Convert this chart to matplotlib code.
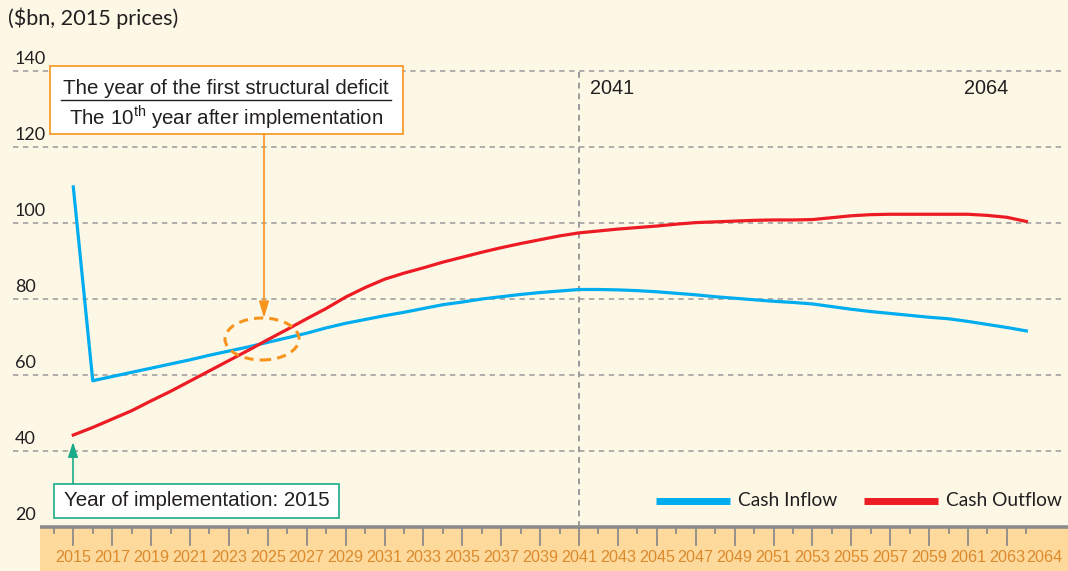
"""Cash inflow vs cash outflow projection, 2015-2064."""

import matplotlib

matplotlib.use("Agg")
import matplotlib.pyplot as plt
from matplotlib.patches import Ellipse, Rectangle

plt.rcParams["mathtext.fontset"] = "custom"
plt.rcParams["mathtext.rm"] = "Liberation Sans"

# Data ($bn, 2015 prices)
years = list(range(2015, 2065))
cash_inflow = [
    109.5, 58.5, 59.6, 60.7, 61.8, 62.9, 64.0, 65.2, 66.3, 67.4,
    68.6, 69.8, 71.0, 72.4, 73.6, 74.6, 75.6, 76.5, 77.5, 78.5,
    79.2, 80.0, 80.6, 81.2, 81.7, 82.1, 82.5, 82.5, 82.4, 82.2,
    81.9, 81.5, 81.1, 80.6, 80.2, 79.8, 79.4, 79.1, 78.7, 78.0,
    77.3, 76.7, 76.2, 75.7, 75.2, 74.8, 74.1, 73.3, 72.5, 71.6,
]
cash_outflow = [
    44.2, 46.2, 48.4, 50.6, 53.2, 55.7, 58.4, 61.1, 63.8, 66.5,
    69.3, 72.0, 74.8, 77.5, 80.5, 83.0, 85.2, 86.8, 88.2, 89.7,
    91.0, 92.3, 93.5, 94.6, 95.6, 96.6, 97.4, 97.9, 98.4, 98.8,
    99.2, 99.7, 100.1, 100.3, 100.5, 100.7, 100.8, 100.8, 100.9, 101.4,
    101.9, 102.2, 102.3, 102.3, 102.3, 102.3, 102.3, 102.0, 101.5, 100.4,
]
y_ticks = [20, 40, 60, 80, 100, 120, 140]
tick_label_years = list(range(2015, 2064, 2)) + [2064]
marker_years = [2041, 2064]

# Colours
BG = "#fdf7e6"
BAND = "#fdd99c"
BLUE = "#00aeef"
RED = "#ed1c24"
ORANGE = "#f7941d"
TEAL = "#1aab8a"
GRID = "#9a9a9a"
TXT = "#231f20"
TICK_TXT = "#dc8a2c"

W, H = 1068, 571


# pixel -> data helpers (axes spans the whole figure)
def px_x(p):
    return 2015 + (p - 73.3) / 19.45


def px_y(p):
    return 20 + (527 - p) / 3.8


fig = plt.figure(figsize=(W / 100, H / 100), dpi=100)
fig.patch.set_facecolor(BG)
ax = fig.add_axes([0, 0, 1, 1])
ax.set_xlim(px_x(0), px_x(W))
ax.set_ylim(px_y(H), px_y(0))
ax.axis("off")
ax.set_facecolor(BG)

# tan band under the x axis
ax.add_patch(
    Rectangle(
        (px_x(40), px_y(H)), px_x(W) - px_x(40), 20 - px_y(H),
        facecolor=BAND, edgecolor="none", zorder=1,
    )
)
ax.plot([px_x(40), px_x(W)], [20, 20], color="#8c8c8c", lw=2.6, zorder=3,
        solid_capstyle="butt")

# ticks: minor at even years, major at odd years
for yr in range(2014, 2065):
    length = 18 if yr % 2 == 1 else 6
    ax.plot([yr, yr], [20, 20 - length / 3.8], color="#8c8c8c", lw=1.3, zorder=3)

for yr in tick_label_years:
    xpos = yr + (0.9 if yr == 2064 else 0)
    ax.text(xpos, px_y(557), str(yr), ha="center", va="center", fontsize=11.6,
            color=TICK_TXT, family=["Liberation Sans Narrow", "Liberation Sans"])

# horizontal gridlines and y labels
for v in y_ticks:
    if v > 20:
        ax.plot([px_x(13), px_x(1062)], [v, v], color=GRID, lw=1.1,
                ls=(0, (3.5, 3)), zorder=2)
    ax.text(px_x(15), v + 1.0, str(v), ha="left", va="bottom", fontsize=13,
            color=TXT, family="Lato")

# vertical marker at 2041
ax.plot([marker_years[0], marker_years[0]], [20, 140], color=GRID, lw=1.4,
        ls=(0, (3, 2.5)), zorder=2)
ax.text(marker_years[0] + 0.55, px_y(88), str(marker_years[0]), ha="left",
        va="center", fontsize=14.3, color=TXT, family="Liberation Sans")
ax.text(px_x(1008), px_y(88), str(marker_years[1]), ha="right", va="center",
        fontsize=14.3, color=TXT, family="Liberation Sans")

# series
ax.plot(years, cash_inflow, color=BLUE, lw=2.3, zorder=5)
ax.plot(years, cash_outflow, color=RED, lw=2.3, zorder=5)

# unit label
fig.text(8 / W, 1 - 18 / H, "($bn, 2015 prices)", ha="left", va="center",
         fontsize=15.6, color=TXT, family="Lato")

# legend
for x0, color, label in [(656, BLUE, "Cash Inflow"), (864, RED, "Cash Outflow")]:
    ax.plot([px_x(x0), px_x(x0 + 74)], [px_y(501), px_y(501)], color=color,
            lw=5, solid_capstyle="butt", zorder=5)
    ax.text(px_x(x0 + 82), px_y(501), label, ha="left", va="center",
            fontsize=13.8, color=TXT, family="Lato")

# first structural deficit box
box_l, box_r, box_t, box_b = px_x(50), px_x(403), px_y(66), px_y(134)
ax.add_patch(
    Rectangle((box_l, box_b), box_r - box_l, box_t - box_b, facecolor="white",
              edgecolor=ORANGE, lw=1.2, zorder=6)
)
ax.text(px_x(226), px_y(88), "The year of the first structural deficit",
        ha="center", va="center", fontsize=14.8, color=TXT,
        family="Liberation Sans", zorder=7)
ax.plot([px_x(61), px_x(391)], [px_y(100), px_y(100)], color=TXT, lw=1.0, zorder=7)
ax.text(px_x(226), px_y(117), r"The 10$^{\mathrm{th}}$ year after implementation",
        ha="center", va="center", fontsize=14.8, color=TXT,
        family="Liberation Sans", zorder=7)

ax.annotate(
    "", xy=(px_x(264), px_y(318)), xytext=(px_x(264), box_b),
    arrowprops=dict(arrowstyle="-|>,head_length=1.0,head_width=0.3",
                    color=ORANGE, lw=1.2, shrinkA=0, shrinkB=0),
    zorder=6,
)
ax.add_patch(
    Ellipse((px_x(262), px_y(339)), 74 / 19.45, 42 / 3.8, facecolor="none",
            edgecolor=ORANGE, lw=2.2, ls=(0, (3, 2)), zorder=6)
)

# implementation box
g_l, g_r, g_t, g_b = px_x(54), px_x(339), px_y(484), px_y(518)
ax.add_patch(
    Rectangle((g_l, g_b), g_r - g_l, g_t - g_b, facecolor="white",
              edgecolor=TEAL, lw=1.2, zorder=6)
)
ax.text((g_l + g_r) / 2, px_y(501), "Year of implementation: 2015", ha="center",
        va="center", fontsize=14.8, color=TXT, family="Liberation Sans", zorder=7)
ax.annotate(
    "", xy=(px_x(73), px_y(442)), xytext=(px_x(73), g_t),
    arrowprops=dict(arrowstyle="-|>,head_length=0.9,head_width=0.3",
                    color=TEAL, lw=1.2, shrinkA=0, shrinkB=0),
    zorder=6,
)

fig.savefig("out.png", dpi=100, facecolor=BG)
